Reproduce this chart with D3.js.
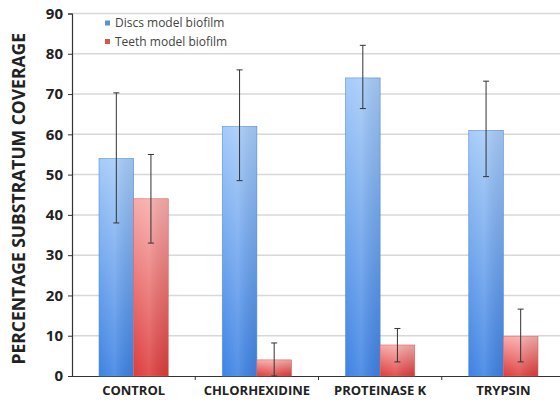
<!DOCTYPE html>
<html><head><meta charset="utf-8">
<script src="https://cdn.jsdelivr.net/npm/d3@7"></script>
<style>body{margin:0;background:#fff}svg{display:block}</style>
</head><body><svg id="c" width="560" height="400"></svg>
<script>
const categories = ["CONTROL","CHLORHEXIDINE","PROTEINASE K","TRYPSIN"];
const seriesNames = ["Discs model biofilm","Teeth model biofilm"];
const discs = [54, 62, 74, 61];
const discsLow = [38, 48.5, 66.4, 49.5];
const discsHigh = [70.3, 76, 82.1, 73.2];
const teeth = [44, 4, 7.7, 9.8];
const teethLow = [33, 0, 3.5, 3.5];
const teethHigh = [55, 8.2, 11.8, 16.6];
const yTicks = [0,10,20,30,40,50,60,70,80,90];

const svg = d3.select("#c");
const L = 72, R = 565, T = 13.5, B = 376;
const FONT = "'Open Sans', sans-serif";
const defs = svg.append("defs");
function grad(id, c1, c2){
  const g = defs.append("linearGradient").attr("id",id).attr("x1",0).attr("y1",0).attr("x2",0).attr("y2",1);
  g.append("stop").attr("offset","0%").attr("stop-color",c1);
  g.append("stop").attr("offset","100%").attr("stop-color",c2);
}
grad("gb","#a6cbf8","#3d82e4");
grad("gr","#f8acab","#dd3b3b");
const hg = defs.append("linearGradient").attr("id","hs").attr("x1",0).attr("x2",1);
hg.append("stop").attr("offset","0%").attr("stop-color","#fff").attr("stop-opacity",0.0);
hg.append("stop").attr("offset","45%").attr("stop-color","#fff").attr("stop-opacity",0.12);
hg.append("stop").attr("offset","100%").attr("stop-color","#000").attr("stop-opacity",0.06);

const x = d3.scaleBand().domain(categories).range([L,R]).paddingInner(0).paddingOuter(0);
const y = d3.scaleLinear().domain([0,90]).range([B,T]);
const inner = d3.scaleBand().domain([0,1]).range([0,x.bandwidth()]).paddingOuter(0.78).paddingInner(0);

// gridlines
svg.append("g").selectAll("line").data(yTicks.filter(d=>d>0)).join("line")
  .attr("x1",L).attr("x2",R).attr("y1",d=>y(d)).attr("y2",d=>y(d))
  .attr("stroke","#d8d8d8").attr("stroke-width",1.5);

// y axis
const ya = svg.append("g").attr("transform",`translate(${L},0)`)
  .call(d3.axisLeft(y).tickValues(yTicks).tickSize(4).tickPadding(5));
ya.select(".domain").attr("stroke","#333").attr("stroke-width",1.2);
ya.selectAll(".tick line").attr("stroke","#333");
ya.selectAll("text").attr("font-family",FONT).attr("font-weight","bold")
  .attr("font-size",15).attr("fill","#222");

// x axis
const xa = svg.append("g").attr("transform",`translate(0,${B})`)
  .call(d3.axisBottom(x).tickSize(0).tickPadding(10));
xa.select(".domain").attr("stroke","#333").attr("stroke-width",1.2);
xa.selectAll("text").attr("font-family",FONT).attr("font-weight","bold")
  .attr("font-size",13).attr("fill","#222");
svg.append("g").selectAll("line").data(categories.slice(1)).join("line")
  .attr("x1",d=>x(d)).attr("x2",d=>x(d)).attr("y1",B).attr("y2",B+4).attr("stroke","#333");

const series = [
  {vals:discs, lo:discsLow, hi:discsHigh, fill:"url(#gb)", edge:"#5a8fd6"},
  {vals:teeth, lo:teethLow, hi:teethHigh, fill:"url(#gr)", edge:"#d66"}
];
series.forEach((s,si)=>{
  const g = svg.append("g");
  g.selectAll("rect.b").data(categories).join("rect").attr("class","b")
    .attr("x",(c)=>x(c)+inner(si)).attr("width",inner.bandwidth())
    .attr("y",(c,i)=>y(s.vals[i])).attr("height",(c,i)=>B-y(s.vals[i]))
    .attr("fill",s.fill).attr("stroke",s.edge).attr("stroke-width",0.6);
  g.selectAll("rect.h").data(categories).join("rect").attr("class","h")
    .attr("x",(c)=>x(c)+inner(si)).attr("width",inner.bandwidth())
    .attr("y",(c,i)=>y(s.vals[i])).attr("height",(c,i)=>B-y(s.vals[i]))
    .attr("fill","url(#hs)");
  const cx = c=>x(c)+inner(si)+inner.bandwidth()/2;
  g.selectAll("line.e").data(categories).join("line").attr("class","e")
    .attr("x1",cx).attr("x2",cx).attr("y1",(c,i)=>y(s.hi[i])).attr("y2",(c,i)=>y(s.lo[i]))
    .attr("stroke","#333").attr("stroke-width",1);
  g.selectAll("line.t").data(categories).join("line").attr("class","t")
    .attr("x1",c=>cx(c)-3).attr("x2",c=>cx(c)+3).attr("y1",(c,i)=>y(s.hi[i])).attr("y2",(c,i)=>y(s.hi[i]))
    .attr("stroke","#333").attr("stroke-width",1);
  g.selectAll("line.u").data(categories).join("line").attr("class","u")
    .attr("x1",c=>cx(c)-3).attr("x2",c=>cx(c)+3).attr("y1",(c,i)=>y(s.lo[i])).attr("y2",(c,i)=>y(s.lo[i]))
    .attr("stroke","#333").attr("stroke-width",1);
});

// legend
const lg = svg.append("g");
const legColors = ["#5b8fd8","#d9534f"];
seriesNames.forEach((n,i)=>{
  const yy = 23 + i*18.5;
  lg.append("rect").attr("x",105).attr("y",yy-2.5).attr("width",5).attr("height",5).attr("fill",legColors[i]);
  lg.append("text").attr("x",115).attr("y",yy).attr("dy","0.35em").text(n)
    .attr("font-family",FONT).attr("font-size",12).attr("fill","#444");
});

// y title
svg.append("text").attr("transform",`translate(25,${(T+B)/2+4}) rotate(-90)`)
  .attr("text-anchor","middle").text("PERCENTAGE SUBSTRATUM COVERAGE")
  .attr("font-family",FONT).attr("font-weight","bold").attr("font-size",17.5).attr("fill","#222");
</script></body></html>
